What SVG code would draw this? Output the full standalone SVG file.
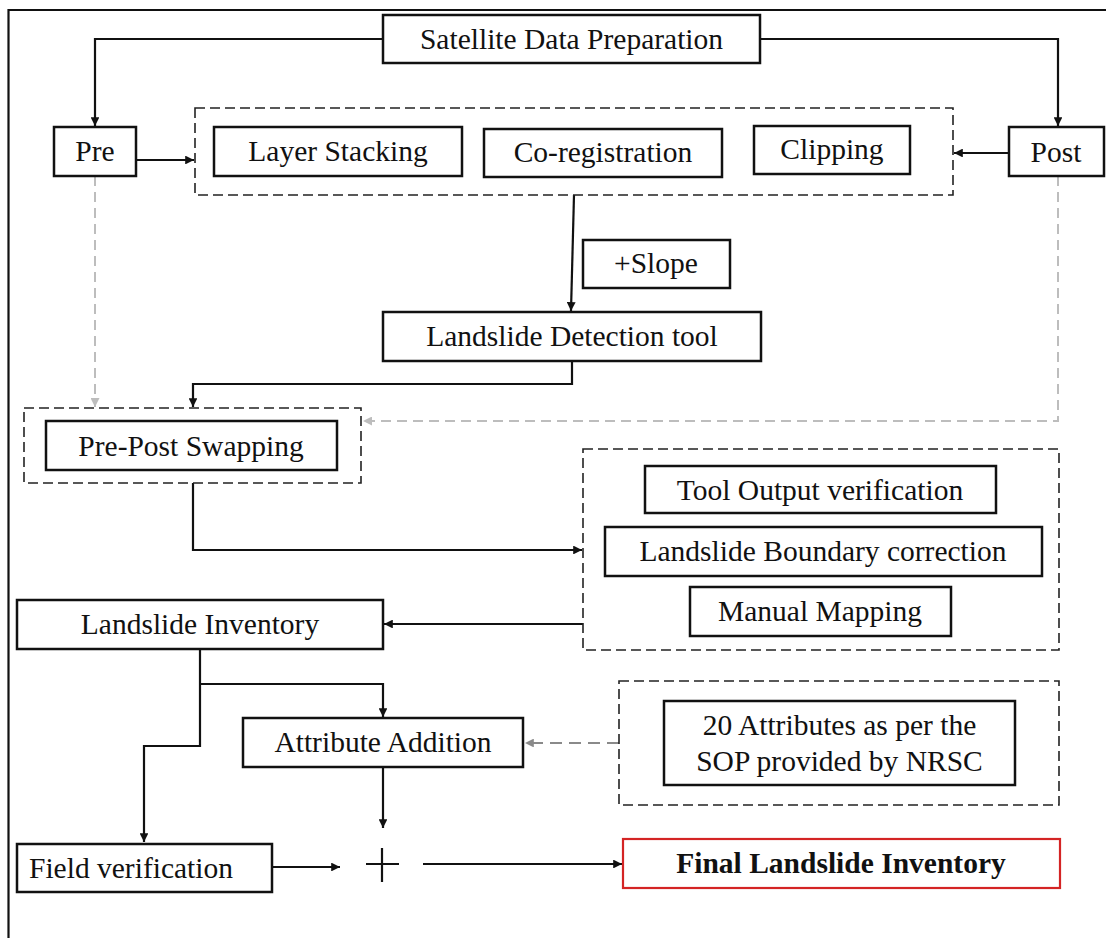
<svg xmlns="http://www.w3.org/2000/svg" width="1106" height="938" viewBox="0 0 1106 938">
<style>
.box{fill:#fff;stroke:#111;stroke-width:2.5}
.grp{fill:none;stroke:#222;stroke-width:1.6;stroke-dasharray:10 5}
.t{font-family:"Liberation Serif","Times New Roman",serif;font-size:29.5px;fill:#111;text-anchor:middle}
.b{font-weight:bold}
.c{fill:none;stroke:#111;stroke-width:2.2}
.g{fill:none;stroke:#bdbdbd;stroke-width:2;stroke-dasharray:10 6}
.g2{fill:none;stroke:#8a8a8a;stroke-width:2.2;stroke-dasharray:12 7}
</style>
<defs>
<marker id="ah" viewBox="0 0 10 10" refX="10" refY="5" markerWidth="4" markerHeight="4" orient="auto" markerUnits="strokeWidth"><path d="M0,0 L10,5 L0,10 z" fill="#111"/></marker>
<marker id="ag" viewBox="0 0 10 10" refX="10" refY="5" markerWidth="4.5" markerHeight="4.5" orient="auto" markerUnits="strokeWidth"><path d="M0,0 L10,5 L0,10 z" fill="#bdbdbd"/></marker>
<marker id="ag2" viewBox="0 0 10 10" refX="10" refY="5" markerWidth="4" markerHeight="4" orient="auto" markerUnits="strokeWidth"><path d="M0,0 L10,5 L0,10 z" fill="#8a8a8a"/></marker>
</defs>
<rect width="1106" height="938" fill="#fff"/>
<path d="M8.5,938 V10 H1106" fill="none" stroke="#111" stroke-width="2.2"/>

<g id="connectors">
<path class="c" d="M383,39 H95 V126" marker-end="url(#ah)"/>
<path class="c" d="M760,39 H1058 V126" marker-end="url(#ah)"/>
<path class="c" d="M136,160 H194" marker-end="url(#ah)"/>
<path class="c" d="M1009,153 H954" marker-end="url(#ah)"/>
<path class="c" d="M574,195 L571,311" marker-end="url(#ah)"/>
<path class="c" d="M572,361 V384 H193 V407" marker-end="url(#ah)"/>
<path class="g" d="M95,176 V407" marker-end="url(#ag)"/>
<path class="g" d="M1058,176 V421 H363" marker-end="url(#ag)"/>
<path class="c" d="M193,483 V550 H582" marker-end="url(#ah)"/>
<path class="c" d="M583,624 H384" marker-end="url(#ah)"/>
<path class="c" d="M200,649 V746 H144 V842" marker-end="url(#ah)"/>
<path class="c" d="M200,684 H383 V717" marker-end="url(#ah)"/>
<path class="g2" d="M619,743 H525" marker-end="url(#ag2)"/>
<path class="c" d="M383,767 V828" marker-end="url(#ah)"/>
<path class="c" d="M272,867 H340" marker-end="url(#ah)"/>
<path class="c" d="M423,864 H622" marker-end="url(#ah)"/>
</g>

<g id="satellite"><rect class="box" x="383" y="15" width="377" height="48"/><text class="t" x="571.5" y="49">Satellite Data Preparation</text></g>
<g id="pre"><rect class="box" x="54" y="127" width="82" height="49"/><text class="t" x="95" y="161">Pre</text></g>
<g id="post"><rect class="box" x="1009" y="127" width="95" height="49"/><text class="t" x="1056" y="162">Post</text></g>
<g id="preprocessing"><rect class="grp" x="195" y="108" width="758" height="87"/></g>
<g id="layer-stacking"><rect class="box" x="214" y="127" width="248" height="49"/><text class="t" x="338" y="161">Layer Stacking</text></g>
<g id="co-registration"><rect class="box" x="484" y="129" width="238" height="48"/><text class="t" x="603" y="162">Co-registration</text></g>
<g id="clipping"><rect class="box" x="754" y="126" width="156" height="48"/><text class="t" x="832" y="159">Clipping</text></g>
<g id="slope"><rect class="box" x="583" y="240" width="147" height="48"/><text class="t" x="656" y="273">+Slope</text></g>
<g id="detection"><rect class="box" x="383" y="312" width="378" height="49"/><text class="t" x="572" y="346">Landslide Detection tool</text></g>
<g id="swap-group"><rect class="grp" x="24" y="408" width="337" height="75"/></g>
<g id="swapping"><rect class="box" x="46" y="421" width="291" height="49"/><text class="t" x="191" y="456">Pre-Post Swapping</text></g>
<g id="verification-group"><rect class="grp" x="583" y="449" width="476" height="201"/></g>
<g id="tool-output"><rect class="box" x="645" y="466" width="351" height="47"/><text class="t" x="820" y="500">Tool Output verification</text></g>
<g id="boundary"><rect class="box" x="605" y="527" width="437" height="49"/><text class="t" x="823" y="561">Landslide Boundary correction</text></g>
<g id="manual"><rect class="box" x="690" y="587" width="261" height="49"/><text class="t" x="820" y="621">Manual Mapping</text></g>
<g id="inventory"><rect class="box" x="17" y="600" width="366" height="49"/><text class="t" x="200" y="634">Landslide Inventory</text></g>
<g id="attribute-addition"><rect class="box" x="243" y="718" width="280" height="49"/><text class="t" x="383" y="752">Attribute Addition</text></g>
<g id="sop-group"><rect class="grp" x="619" y="681" width="440" height="124"/></g>
<g id="sop"><rect class="box" x="664" y="701" width="351" height="84"/><text class="t" x="839.5" y="735">20 Attributes as per the</text><text class="t" x="839.5" y="771">SOP provided by NRSC</text></g>
<g id="field"><rect class="box" x="17" y="844" width="255" height="48"/><text class="t" x="29" y="878" style="text-anchor:start">Field verification</text></g>
<g id="plus"><path d="M382,848 V882 M366,864 H399" stroke="#111" stroke-width="2.2" fill="none"/></g>
<g id="final"><rect x="623" y="839" width="437" height="49" fill="#fff" stroke="#d42424" stroke-width="2.2"/><text class="t b" x="841" y="873">Final Landslide Inventory</text></g>
</svg>
